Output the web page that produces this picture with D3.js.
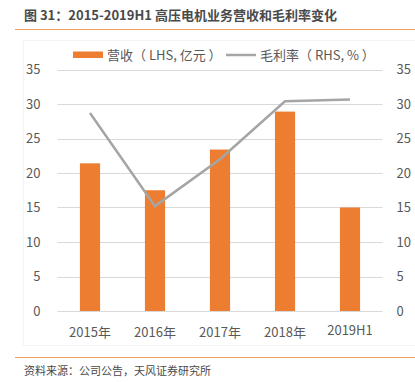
<!DOCTYPE html>
<html>
<head>
<meta charset="utf-8">
<script src="https://cdn.jsdelivr.net/npm/d3@7"></script>
<style>
  body { margin: 0; background: #fff; }
  text { font-family: "Noto Sans CJK SC", "Noto Sans", sans-serif; }
</style>
</head>
<body>
<div id="chart"></div>
<script>
var categories = ["2015年", "2016年", "2017年", "2018年", "2019H1"];
var revenue = [21.4, 17.5, 23.4, 28.9, 15.0];
var margin = [28.7, 15.2, 22.0, 30.4, 30.65];
var ticks = [0, 5, 10, 15, 20, 25, 30, 35];

function drawChart() {
  var W = 415, H = 382;
  var left = 57.5, right = 382.5, top = 69.5, bottom = 311;

  var svg = d3.select("#chart")
    .append("svg")
    .attr("width", W)
    .attr("height", H);

  // title and frame lines
  svg.append("text")
    .attr("x", 24).attr("y", 20)
    .attr("font-size", "13px")
    .attr("font-weight", "bold")
    .attr("fill", "#4a4a4a")
    .text("图 31：2015-2019H1 高压电机业务营收和毛利率变化");

  svg.append("line")
    .attr("x1", 15).attr("x2", 415).attr("y1", 29.5).attr("y2", 29.5)
    .attr("stroke", "#f0a060").attr("stroke-width", 1);

  svg.append("rect")
    .attr("x", 23.5).attr("y", 40.5).attr("width", 392).attr("height", 305)
    .attr("fill", "none").attr("stroke", "#f3f3f3");

  svg.append("line")
    .attr("x1", 15).attr("x2", 415).attr("y1", 357.5).attr("y2", 357.5)
    .attr("stroke", "#f0a060").attr("stroke-width", 1);

  svg.append("text")
    .attr("x", 24).attr("y", 375)
    .attr("font-size", "11px")
    .attr("fill", "#4a4a4a")
    .text("资料来源：公司公告，天风证券研究所");

  var xScale = d3.scaleBand()
    .domain(categories)
    .range([left, right])
    .paddingInner(0.69)
    .paddingOuter(0.345);

  var yScale = d3.scaleLinear().domain([0, 35]).range([bottom, top]);
  var y2Scale = d3.scaleLinear().domain([0, 35]).range([bottom, top]);

  // gridlines
  svg.append("g")
    .selectAll("line")
    .data(ticks)
    .enter()
    .append("line")
    .attr("x1", left).attr("x2", right)
    .attr("y1", d => Math.round(yScale(d)) + 0.5)
    .attr("y2", d => Math.round(yScale(d)) + 0.5)
    .attr("stroke", "#d9d9d9");

  // left axis
  var leftAxis = svg.append("g")
    .attr("transform", "translate(" + left + ",0)")
    .call(d3.axisLeft(yScale).tickValues(ticks).tickSize(0).tickPadding(17));
  leftAxis.select(".domain").remove();
  leftAxis.selectAll("text")
    .attr("font-size", "13px").attr("fill", "#595959")
    .style("font-family", "'Noto Sans CJK SC', sans-serif");

  // right axis
  var rightAxis = svg.append("g")
    .attr("transform", "translate(" + right + ",0)")
    .call(d3.axisRight(y2Scale).tickValues(ticks).tickSize(0).tickPadding(14));
  rightAxis.select(".domain").remove();
  rightAxis.selectAll("text")
    .attr("font-size", "13px").attr("fill", "#595959")
    .style("font-family", "'Noto Sans CJK SC', sans-serif");

  // bars
  svg.append("g")
    .selectAll("rect")
    .data(revenue)
    .enter()
    .append("rect")
    .attr("x", (d, i) => xScale(categories[i]))
    .attr("y", d => yScale(d))
    .attr("width", xScale.bandwidth())
    .attr("height", d => bottom - yScale(d))
    .attr("fill", "#ed7d31");

  // line
  var line = d3.line()
    .x((d, i) => xScale(categories[i]) + xScale.bandwidth() / 2)
    .y(d => y2Scale(d));

  svg.append("path")
    .datum(margin)
    .attr("d", line)
    .attr("fill", "none")
    .attr("stroke", "#a5a5a5")
    .attr("stroke-width", 2.5);

  // x labels
  svg.append("g")
    .selectAll("text")
    .data(categories)
    .enter()
    .append("text")
    .attr("x", d => xScale(d) + xScale.bandwidth() / 2)
    .attr("y", (d, i) => i === 4 ? 335 : 337)
    .attr("text-anchor", "middle")
    .attr("font-size", "13px")
    .attr("fill", "#595959")
    .text(d => d);

  // legend
  var legend = svg.append("g");
  legend.append("rect")
    .attr("x", 73).attr("y", 51.5).attr("width", 30).attr("height", 6.5)
    .attr("fill", "#ed7d31");
  legend.append("text")
    .attr("x", 107).attr("y", 59.5)
    .attr("font-size", "13px").attr("fill", "#595959")
    .attr("xml:space", "preserve")
    .text("营收（ LHS, 亿元 ）");
  legend.append("line")
    .attr("x1", 226).attr("x2", 256).attr("y1", 55).attr("y2", 55)
    .attr("stroke", "#a5a5a5").attr("stroke-width", 2.5);
  legend.append("text")
    .attr("x", 260).attr("y", 59.5)
    .attr("font-size", "13px").attr("fill", "#595959")
    .attr("xml:space", "preserve")
    .text("毛利率（ RHS, % ）");
}

drawChart();
</script>
</body>
</html>
